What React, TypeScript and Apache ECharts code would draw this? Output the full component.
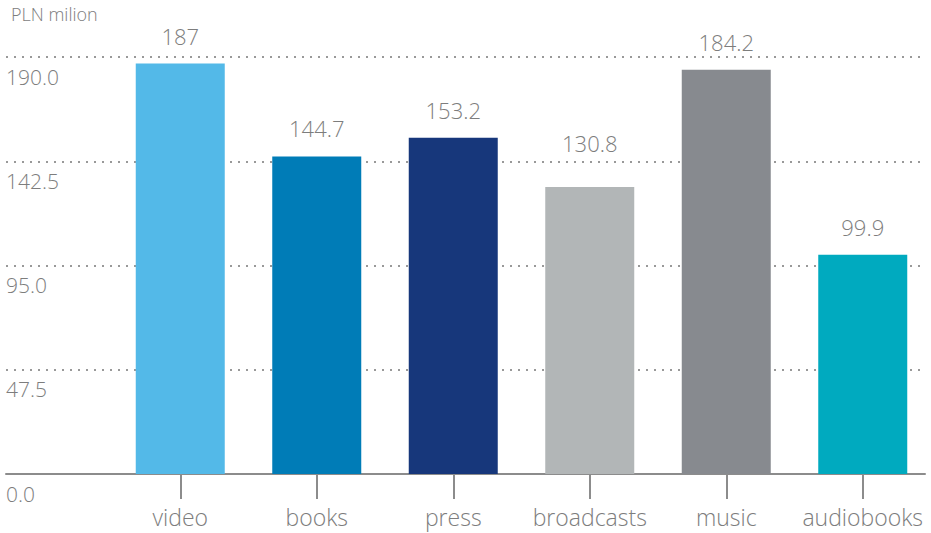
import React, { useEffect, useRef } from "react";
import * as echarts from "echarts";

const categories = ["video", "books", "press", "broadcasts", "music", "audiobooks"];
const values = [187, 144.7, 153.2, 130.8, 184.2, 99.9];
const barColors = ["#53b9e8", "#007cb7", "#17377b", "#b2b6b7", "#878a8f", "#00aabf"];
const yTicks = [0, 47.5, 95, 142.5, 190];
const unitLabel = "PLN milion";

const FONT = "'Open Sans', sans-serif";
const GRAY = "#7d7d7d";

export default function App() {
  const ref = useRef<HTMLDivElement>(null);
  useEffect(() => {
    if (!ref.current) return;
    const chart = echarts.init(ref.current, null, { renderer: "svg" });
    const yMin = yTicks[0];
    const yMax = yTicks[yTicks.length - 1];
    const step = yTicks[1] - yTicks[0];
    chart.setOption({
      animation: false,
      title: {
        text: unitLabel,
        left: 6,
        top: 0,
        textStyle: { fontFamily: FONT, fontWeight: 300, fontSize: 18, color: GRAY },
      },
      grid: [
        { left: 6, right: 6, top: 57, bottom: 59, containLabel: false },
        { left: 112, right: 0, top: 57, bottom: 59, containLabel: false },
      ],
      xAxis: [
        {
          type: "category",
          gridIndex: 0,
          data: [""],
          axisLine: { show: true, lineStyle: { color: "#8c8c8c", width: 2 } },
          axisTick: { show: false },
          axisLabel: { show: false },
          splitLine: { show: false },
        },
        {
          type: "category",
          gridIndex: 1,
          data: categories,
          axisLine: { show: false },
          axisTick: {
            show: true,
            interval: 0,
            alignWithLabel: true,
            length: 25,
            lineStyle: { color: "#8c8c8c", width: 2 },
          },
          axisLabel: {
            interval: 0,
            hideOverlap: false,
            margin: 31,
            fontFamily: FONT,
            fontWeight: 300,
            fontSize: 23,
            color: GRAY,
          },
        },
      ],
      yAxis: [
        {
          type: "value",
          gridIndex: 0,
          min: yMin,
          max: yMax,
          interval: step,
          axisLine: { show: false },
          axisTick: { show: false },
          splitLine: {
            show: true,
            showMinLine: false,
            lineStyle: { color: "#999999", width: 2, type: [2, 6] },
          },
          axisLabel: {
            inside: true,
            margin: 0,
            verticalAlign: "top",
            padding: [9, 0, 0, 0],
            fontFamily: FONT,
            fontWeight: 300,
            fontSize: 21,
            color: GRAY,
            formatter: (v: number) => v.toFixed(1),
          },
        },
        {
          type: "value",
          gridIndex: 1,
          min: yMin,
          max: yMax,
          interval: step,
          show: false,
          splitLine: { show: false },
        },
      ],
      series: [
        {
          type: "bar",
          xAxisIndex: 1,
          yAxisIndex: 1,
          barWidth: 89,
          data: values.map((v, i) => ({
            value: v,
            itemStyle: { color: barColors[i] },
            // the reference lifts this one label above the dotted gridline
            label: i === 3 ? { distance: 33 } : undefined,
          })),
          label: {
            show: true,
            position: "top",
            distance: 17,
            fontFamily: FONT,
            fontWeight: 300,
            fontSize: 22,
            color: GRAY,
          },
        },
      ],
    });
    return () => chart.dispose();
  }, []);
  return <div ref={ref} style={{ width: 931, height: 533, position: "absolute", left: 0, top: 0 }} />;
}
